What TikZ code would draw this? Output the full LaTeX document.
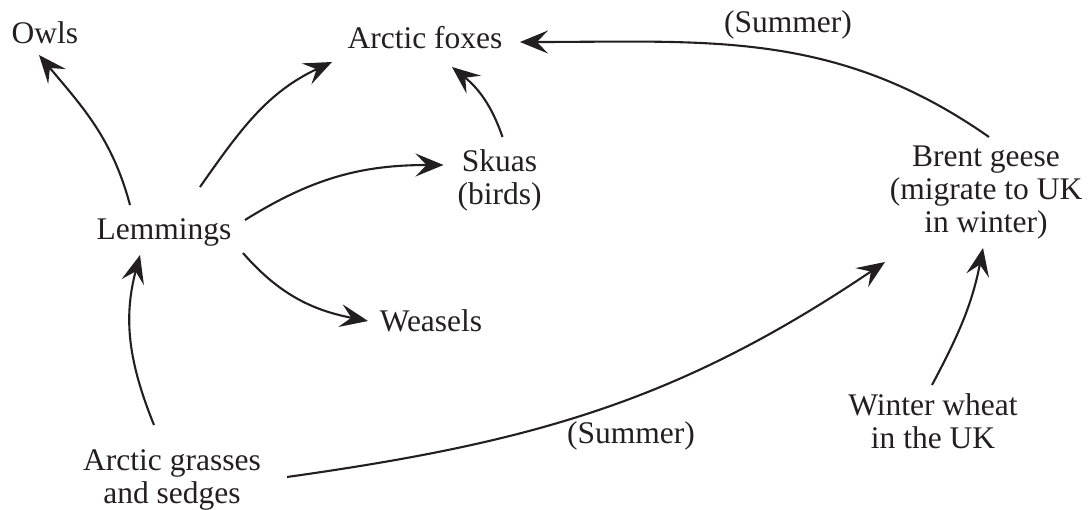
\documentclass[tikz,border=0pt]{standalone}
\usepackage{fontspec}
\setmainfont{Liberation Serif}
\usetikzlibrary{arrows.meta}
\definecolor{ink}{HTML}{231F20}
\begin{document}
\begin{tikzpicture}[x=1pt,y=1pt,
  lbl/.style={anchor=base,inner sep=0pt,text=ink,font=\fontsize{31.5}{33}\selectfont},
  link/.style={draw=ink,line width=2.1pt,-{Stealth[length=28pt,width=23pt,inset=11pt]}}]
\useasboundingbox (0,0) rectangle (1089,509);
\node[lbl] (owl) at (45,465) {Owls};
\node[lbl] (fox) at (425,460) {Arctic foxes};
\node[lbl] (sum1) at (788,476) {(Summer)};
\node[lbl] (sku) at (499.5,337) {\begin{tabular}[t]{@{}c@{}}Skuas\\(birds)\end{tabular}};
\node[lbl] (lem) at (164,269) {Lemmings};
\node[lbl] (wea) at (431,177) {Weasels};
\node[lbl] (bre) at (986,342) {\begin{tabular}[t]{@{}c@{}}Brent geese\\(migrate to UK\\in winter)\end{tabular}};
\node[lbl] (whe) at (933,94) {\begin{tabular}[t]{@{}c@{}}Winter wheat\\in the UK\end{tabular}};
\node[lbl] (gra) at (172,39) {\begin{tabular}[t]{@{}c@{}}Arctic grasses\\and sedges\end{tabular}};
\node[lbl] (sum2) at (631,66) {(Summer)};
\draw[link] ([shift={(-34,35)}]lem.base) to[out=105,in=-50] ([shift={(-6,-11)}]owl.base);
\draw[link] ([shift={(36,53)}]lem.base) to[out=55,in=-155] ([shift={(-93,-13)}]fox.base);
\draw[link] ([shift={(81,20)}]lem.base) to[out=32,in=180] ([shift={(-56,7)}]sku.base);
\draw[link] ([shift={(79,-13)}]lem.base) to[out=-49,in=169] ([shift={(-63,11)}]wea.base);
\draw[link] ([shift={(-18,45)}]gra.base) to[out=112,in=-105] ([shift={(-24,-15)}]lem.base);
\draw[link] ([shift={(3,35)}]sku.base) to[out=109,in=-39] ([shift={(27,-18)}]fox.base);
\draw[link] ([shift={(3,30)}]bre.base) to[out=145,in=0] ([shift={(95,7)}]fox.base);
\draw[link] ([shift={(115,-7)}]gra.base) to[out=8,in=-146] ([shift={(-101,-95)}]bre.base);
\draw[link] ([shift={(-1,30)}]whe.base) to[out=62,in=-101] ([shift={(-3,-81)}]bre.base);
\end{tikzpicture}
\end{document}
